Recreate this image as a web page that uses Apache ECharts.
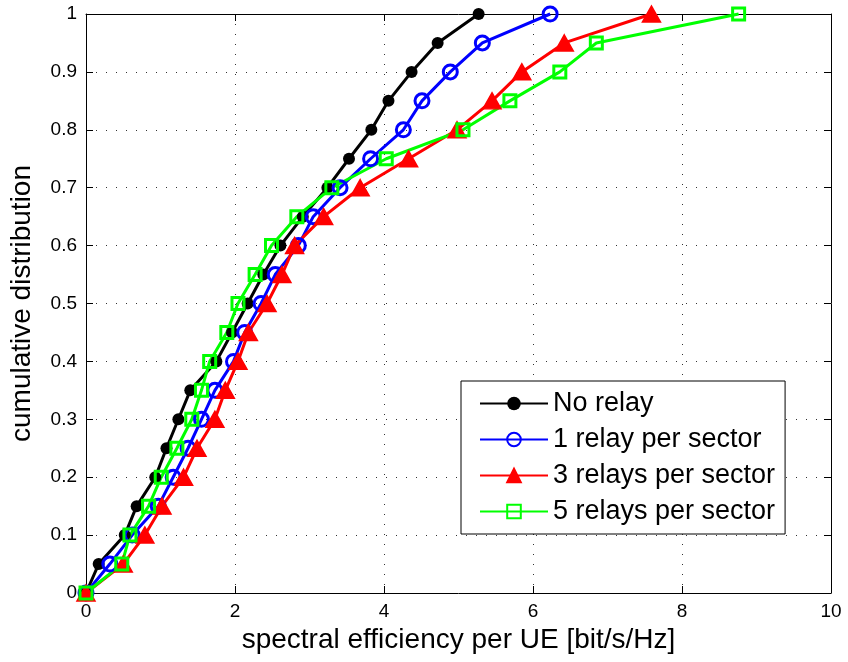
<!DOCTYPE html>
<html>
<head>
<meta charset="utf-8">
<script src="https://cdn.jsdelivr.net/npm/echarts@6/dist/echarts.min.js"></script>
<style>
  html, body { margin: 0; padding: 0; background: #fff; }
  #chart { width: 848px; height: 662px; }
</style>
</head>
<body>
<div id="chart"></div>
<script>
// Cumulative distribution levels (y) shared by every curve
const cdfLevels = [0, 0.05, 0.1, 0.15, 0.2, 0.25, 0.3, 0.35, 0.4, 0.45, 0.5,
                   0.55, 0.6, 0.65, 0.7, 0.75, 0.8, 0.85, 0.9, 0.95, 1];

// Spectral efficiency per UE [bit/s/Hz] at each level
const noRelay     = [0, 0.17, 0.52, 0.68, 0.93, 1.08, 1.24, 1.40, 1.75, 1.96, 2.17,
                     2.38, 2.61, 2.91, 3.24, 3.53, 3.83, 4.06, 4.37, 4.72, 5.27];
const oneRelay    = [0, 0.32, 0.62, 0.97, 1.17, 1.37, 1.55, 1.73, 1.98, 2.13, 2.35,
                     2.54, 2.85, 3.05, 3.41, 3.82, 4.26, 4.51, 4.89, 5.32, 6.23];
const threeRelays = [0, 0.50, 0.79, 1.02, 1.31, 1.49, 1.73, 1.87, 2.04, 2.18, 2.43,
                     2.63, 2.80, 3.19, 3.68, 4.33, 4.98, 5.45, 5.85, 6.42, 7.59];
const fiveRelays  = [0, 0.48, 0.59, 0.84, 1.01, 1.22, 1.42, 1.55, 1.66, 1.89, 2.04,
                     2.27, 2.49, 2.83, 3.30, 4.03, 5.06, 5.69, 6.36, 6.85, 8.76];

const seriesNames = ['No relay', '1 relay per sector', '3 relays per sector', '5 relays per sector'];

const FONT = "'Liberation Sans', Arial, Helvetica, sans-serif";

const pairs = xs => xs.map((x, i) => [x, cdfLevels[i]]);

const chart = echarts.init(document.getElementById('chart'), null, { renderer: 'canvas' });

const tickStyle = { inside: true, length: 7, lineStyle: { color: '#000', width: 1 } };
const lineAxis = { show: true, onZero: false, lineStyle: { color: '#000', width: 1 } };
const gridDots = { show: true, lineStyle: { color: '#333', width: 1, type: [1, 9] } };

chart.setOption({
  animation: false,
  backgroundColor: '#fff',
  textStyle: { fontFamily: FONT },
  grid: { left: 86, right: 17, top: 14, bottom: 69 },
  xAxis: [
    {
      type: 'value', min: 0, max: 10, interval: 2, position: 'bottom',
      axisLine: lineAxis, axisTick: tickStyle, splitLine: gridDots,
      axisLabel: { fontSize: 19, color: '#000', margin: 9, fontFamily: FONT },
      name: 'spectral efficiency per UE [bit/s/Hz]',
      nameLocation: 'middle', nameGap: 29,
      nameTextStyle: { fontSize: 28, color: '#000', fontFamily: FONT }
    },
    {
      type: 'value', min: 0, max: 10, interval: 2, position: 'top',
      axisLine: lineAxis, axisTick: tickStyle,
      axisLabel: { show: false }, splitLine: { show: false }
    }
  ],
  yAxis: [
    {
      type: 'value', min: 0, max: 1, interval: 0.1, position: 'left',
      axisLine: lineAxis, axisTick: tickStyle, splitLine: gridDots,
      axisLabel: { fontSize: 19, color: '#000', margin: 9, fontFamily: FONT },
      name: 'cumulative distribution',
      nameLocation: 'middle', nameGap: 50,
      nameTextStyle: { fontSize: 28, color: '#000', fontFamily: FONT }
    },
    {
      type: 'value', min: 0, max: 1, interval: 0.1, position: 'right',
      axisLine: lineAxis, axisTick: tickStyle,
      axisLabel: { show: false }, splitLine: { show: false }
    }
  ],
  legend: {
    data: seriesNames,
    orient: 'vertical',
    left: 461, top: 381,
    itemWidth: 68, itemHeight: 17, itemGap: 9,
    padding: [9, 10, 9, 18],
    backgroundColor: '#fff',
    borderColor: '#000', borderWidth: 1,
    textStyle: { fontSize: 27, color: '#000', fontFamily: FONT }
  },
  series: [
    {
      name: seriesNames[0], type: 'line', data: pairs(noRelay), clip: false,
      symbol: 'circle', symbolSize: 12,
      lineStyle: { color: '#000000', width: 3 },
      itemStyle: { color: '#000000', borderColor: '#000000', borderWidth: 0 }
    },
    {
      name: seriesNames[1], type: 'line', data: pairs(oneRelay), clip: false,
      symbol: 'circle', symbolSize: 14,
      lineStyle: { color: '#0000ff', width: 3 },
      itemStyle: { color: 'rgba(255,255,255,0)', borderColor: '#0000ff', borderWidth: 3 }
    },
    {
      name: seriesNames[2], type: 'line', data: pairs(threeRelays), clip: false,
      symbol: 'triangle', symbolSize: [18, 16],
      lineStyle: { color: '#ff0000', width: 3 },
      itemStyle: { color: '#ff0000', borderColor: '#ff0000', borderWidth: 1.5 }
    },
    {
      name: seriesNames[3], type: 'line', data: pairs(fiveRelays), clip: false,
      symbol: 'rect', symbolSize: 12,
      lineStyle: { color: '#00ff00', width: 3 },
      itemStyle: { color: 'rgba(255,255,255,0)', borderColor: '#00ff00', borderWidth: 3 }
    }
  ]
});
</script>
</body>
</html>
